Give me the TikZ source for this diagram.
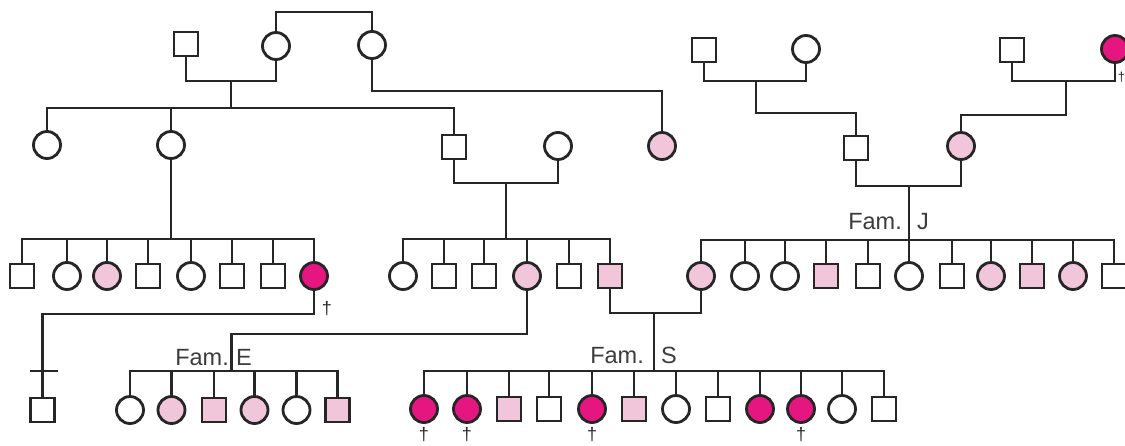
\documentclass[tikz,border=0pt]{standalone}
\usepackage{fontspec}
\setmainfont{Liberation Sans}
\definecolor{lc}{RGB}{38,38,38}
\definecolor{lp}{RGB}{242,198,218}
\definecolor{dp}{RGB}{230,22,128}
\definecolor{tc}{RGB}{60,60,60}
\begin{document}
\begin{tikzpicture}[x=1pt,y=-1pt,
  base/.style={draw=lc,line width=2.8pt,inner sep=0pt,fill=white},
  m/.style={base,minimum size=24pt},
  ml/.style={m,fill=lp},
  f/.style={base,circle,minimum size=27pt},
  fl/.style={f,fill=lp},
  fd/.style={f,fill=dp},
  lnk/.style={draw=lc,line width=2.8pt},
  dg/.style={font=\fontsize{18}{18}\selectfont,text=lc,inner sep=0pt},
  fam/.style={font=\fontsize{23.5}{23.5}\selectfont,text=tc,inner sep=0pt}]
\useasboundingbox (0,0) rectangle (1125,445);
\fill[white] (0,0) rectangle (1125,445);
% generation 1
\node[m] (A1) at (186,44) {};
\node[f] (A2) at (276,46) {};
\node[f] (A3) at (372,45) {};
\node[m] (R1) at (704,50) {};
\node[f] (R2) at (806,49) {};
\node[m] (R3) at (1012,50) {};
\node[fd] (R4) at (1115,49) {};
\node[dg,font=\fontsize{13}{13}\selectfont] (dR4) at (1121.5,77) {\textdagger};
% generation 2
\node[f] (B1) at (47,145) {};
\node[f] (B2) at (171,145) {};
\node[m] (B3) at (454,147) {};
\node[f] (B4) at (558,146) {};
\node[fl] (B5) at (662,146) {};
\node[m] (R5) at (856,148) {};
\node[fl] (R6) at (961,146) {};
% generation 3
\foreach \n/\x/\s in {1/22/m,2/67/f,3/107/fl,4/148/m,5/191/f,6/232/m,7/273/m,8/314/fd}
  \node[\s] (C\n) at (\x,276) {};
\foreach \n/\x/\s in {1/403/f,2/444/m,3/484/m,4/527/fl,5/569/m,6/610/ml}
  \node[\s] (D\n) at (\x,276) {};
\foreach \n/\x/\s in {1/701/fl,2/745/f,3/785/f,4/826/ml,5/868/m,6/909/f,7/952/m,8/991/fl,9/1032/ml,10/1073/fl,11/1114/m}
  \node[\s] (J\n) at (\x,276) {};
\node[dg] (dC8) at (327,309) {\textdagger};
% generation 4
\node[m] (G1) at (42.7,410) {};
\foreach \n/\x/\s in {1/130/f,2/171.5/fl,3/214/ml,4/254.5/fl,5/296.5/f,6/337.5/ml}
  \node[\s] (E\n) at (\x,410) {};
\foreach \n/\x/\s in {1/424/fd,2/467/fd,3/509/ml,4/549/m,5/592/fd,6/634/ml,7/676/f,8/718/m,9/760/fd,10/801/fd,11/842/f,12/884/m}
  \node[\s] (S\n) at (\x,409) {};
\foreach \n in {1,2,5,10}
  \node[dg] (dS\n) at ([yshift=-26pt]S\n.center) {\textdagger};
% connectors, top left
\coordinate (t1) at (324,12);
\draw[lnk] (A2.north) |- (t1) -| (A3.north);
\coordinate (mA) at (231,81);
\coordinate (sA) at (231,108);
\draw[lnk] (A1.south) |- (mA) -| (A2.south);
\draw[lnk] (mA) -- (sA);
\foreach \c in {B1,B2,B3} \draw[lnk] (sA) -| (\c.north);
\coordinate (kA3) at (662,91);
\draw[lnk] (A3.south) |- (kA3) -- (B5.north);
\coordinate (sC) at (171,239);
\draw[lnk] (B2.south) -- (sC);
\foreach \i in {1,...,8} \draw[lnk] (sC) -| (C\i.north);
\coordinate (mB) at (506,183);
\coordinate (sD) at (506,239);
\draw[lnk] (B3.south) |- (mB) -| (B4.south);
\draw[lnk] (mB) -- (sD);
\foreach \i in {1,...,6} \draw[lnk] (sD) -| (D\i.north);
% connectors, top right
\coordinate (mR1) at (756,81);
\coordinate (kR5) at (856,113);
\draw[lnk] (R1.south) |- (mR1) -| (R2.south);
\draw[lnk] (mR1) |- (kR5) -- (R5.north);
\coordinate (mR3) at (1066,81);
\coordinate (kR6) at (961,115);
\draw[lnk] (R3.south) |- (mR3) -| (R4.south);
\draw[lnk] (mR3) |- (kR6) -- (R6.north);
\coordinate (mJ) at (909,186);
\coordinate (sJ) at (909,240);
\draw[lnk] (R5.south) |- (mJ) -| (R6.south);
\draw[lnk] (mJ) -- (sJ);
\foreach \i in {1,...,11} \draw[lnk] (sJ) -| (J\i.north);
\node[fam,anchor=base east] (fJ) at (902,229) {Fam.};
\node[fam,anchor=base west] (lJ) at (917,229) {J};
% connectors, bottom
\coordinate (kC8) at (42.7,314);
\draw[lnk] (C8.south) |- (kC8) -- (G1.north);
\coordinate (tk1) at (30,371);
\coordinate (tk2) at (58,371);
\draw[lnk] (tk1) -- (tk2);
\coordinate (kD4) at (231.7,334);
\coordinate (sE) at (231.7,371);
\draw[lnk] (D4.south) |- (kD4) -- (sE);
\foreach \i in {1,...,6} \draw[lnk] (sE) -| (E\i.north);
\node[fam,anchor=base east] (fE) at (229,365) {Fam.};
\node[fam,anchor=base west] (lE) at (236,365) {E};
\coordinate (mS) at (654,313);
\coordinate (sS) at (654,371);
\draw[lnk] (D6.south) |- (mS) -| (J1.south);
\draw[lnk] (mS) -- (sS);
\foreach \i in {1,...,12} \draw[lnk] (sS) -| (S\i.north);
\node[fam,anchor=base east] (fS) at (644,363) {Fam.};
\node[fam,anchor=base west] (lS) at (661,363) {S};
\end{tikzpicture}
\end{document}
